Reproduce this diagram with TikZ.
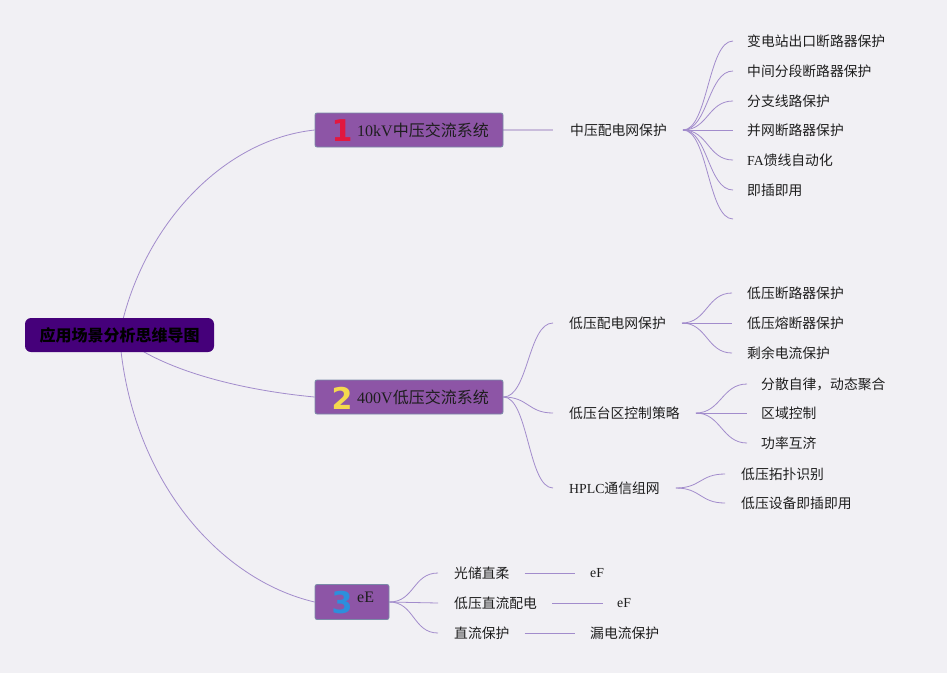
\documentclass[tikz,border=0pt]{standalone}
\usepackage{fontspec}
\setmainfont{Liberation Serif}
\newfontfamily\cjk{Noto Sans CJK SC}
\newfontfamily\numfont{DejaVu Sans}
\definecolor{bgc}{HTML}{F1F0F4}
\definecolor{rootc}{HTML}{45007A}
\definecolor{boxc}{HTML}{8D55A6}
\definecolor{boxb}{HTML}{7A8AA8}
\definecolor{linec}{HTML}{A28CCC}
\definecolor{thickc}{HTML}{C9BCDB}
\definecolor{txtc}{HTML}{1E1E1E}
\definecolor{nred}{HTML}{E2183F}
\definecolor{nyel}{HTML}{F4D94E}
\definecolor{nblue}{HTML}{2C8FDC}
\pgfdeclarelayer{bglayer}
\pgfdeclarelayer{linelayer}
\pgfsetlayers{bglayer,linelayer,main}
\tikzset{
  lbl/.style={anchor=west,inner sep=0pt,text=txtc,font=\fontsize{13.8}{16}\selectfont},
  toplbl/.style={anchor=west,inner sep=0pt,text=txtc,font=\fontsize{16}{18}\selectfont},
  topicbox/.style={draw=boxb,line width=0.8pt,fill=boxc,rounded corners=2pt,minimum height=34pt,inner sep=0pt},
  rootbox/.style={fill=rootc,rounded corners=6pt,minimum width=189pt,minimum height=34pt,inner sep=0pt,
    font=\fontsize{16}{18}\selectfont\cjk\bfseries,text=black},
  numlbl/.style={inner sep=0pt,font=\fontsize{30}{31}\selectfont\numfont\bfseries},
  branch/.style={draw=linec,line width=0.8pt},
  thickbranch/.style={draw=thickc,line width=2pt}
}
\begin{document}
\begin{tikzpicture}[x=1pt,y=-1pt]
\begin{pgfonlayer}{bglayer}
\fill[bgc] (0,0) rectangle (947,673);
\end{pgfonlayer}
\useasboundingbox (0,0) rectangle (947,673);

% root
\node[rootbox] (root) at (119.5,335) {应用场景分析思维导图};

% main topics
\node[topicbox,minimum width=188pt] (t1) at (409,130) {};
\node[numlbl,text=nred] (n1) at (342,131) {1};
\node[toplbl] (t1l) at (357,130) {10kV{\cjk 中压交流系统}};

\node[topicbox,minimum width=188pt] (t2) at (409,397) {};
\node[numlbl,text=nyel] (n2) at (342,398) {2};
\node[toplbl] (t2l) at (357,397) {400V{\cjk 低压交流系统}};

\node[topicbox,minimum width=74pt,minimum height=35pt] (t3) at (352,602) {};
\node[numlbl,text=nblue] (n3) at (342,603) {3};
\node[toplbl] (t3l) at (357,597) {eE};

% branch 1
\node[lbl] (a0) at (570,130) {\cjk 中压配电网保护};
\node[lbl] (a1) at (747,41) {\cjk 变电站出口断路器保护};
\node[lbl] (a2) at (747,71) {\cjk 中间分段断路器保护};
\node[lbl] (a3) at (747,101) {\cjk 分支线路保护};
\node[lbl] (a4) at (747,130) {\cjk 并网断路器保护};
\node[lbl] (a5) at (747,160) {FA{\cjk 馈线自动化}};
\node[lbl] (a6) at (747,190) {\cjk 即插即用};
\coordinate (a7) at (733,219);

% branch 2
\node[lbl] (b1) at (569,323) {\cjk 低压配电网保护};
\node[lbl] (b2) at (569,413) {\cjk 低压台区控制策略};
\node[lbl] (b3) at (569,488) {HPLC{\cjk 通信组网}};
\node[lbl] (b11) at (747,293) {\cjk 低压断路器保护};
\node[lbl] (b12) at (747,323) {\cjk 低压熔断器保护};
\node[lbl] (b13) at (747,353) {\cjk 剩余电流保护};
\node[lbl] (b21) at (761,384) {\cjk 分散自律，动态聚合};
\node[lbl] (b22) at (761,413) {\cjk 区域控制};
\node[lbl] (b23) at (761,443) {\cjk 功率互济};
\node[lbl] (b31) at (741,474) {\cjk 低压拓扑识别};
\node[lbl] (b32) at (741,503) {\cjk 低压设备即插即用};

% branch 3
\node[lbl] (c1) at (454,573) {\cjk 光储直柔};
\node[lbl] (c2) at (454,603) {\cjk 低压直流配电};
\node[lbl] (c3) at (454,633) {\cjk 直流保护};
\node[lbl] (c11) at (590,573) {eF};
\node[lbl] (c21) at (617,603) {eF};
\node[lbl] (c31) at (590,633) {\cjk 漏电流保护};

\begin{pgfonlayer}{linelayer}
% root connectors
\draw[branch] (root.center) .. controls (140,230) and (220,140) .. (t1.west);
\draw[branch] (root.center) .. controls (160,370) and (240,390) .. (t2.west);
\draw[branch] (root.center) .. controls (130,480) and (220,580) .. (t3.west);
% topic 1
\draw[thickbranch] (t1.east) -- ([xshift=-17pt]a0.west);
\foreach \c in {a1,a2,a3,a4,a5,a6}{
  \draw[branch] ([xshift=16pt]a0.east |- a0.west) .. controls +(25,0) and +(-25,0) .. ([xshift=-14pt]\c.west);
}
\draw[branch] ([xshift=16pt]a0.east |- a0.west) .. controls +(25,0) and +(-25,0) .. (a7);
% topic 2
\foreach \c in {b1,b2,b3}{
  \draw[branch] (t2.east) .. controls +(25,0) and +(-25,0) .. ([xshift=-16pt]\c.west);
}
\foreach \c in {b11,b12,b13}{
  \draw[branch] ([xshift=16pt]b1.east) .. controls +(25,0) and +(-25,0) .. ([xshift=-15pt]\c.west);
}
\foreach \c in {b21,b22,b23}{
  \draw[branch] ([xshift=16pt]b2.east) .. controls +(25,0) and +(-25,0) .. ([xshift=-14pt]\c.west);
}
\foreach \c in {b31,b32}{
  \draw[branch] ([xshift=16pt]b3.east) .. controls +(25,0) and +(-25,0) .. ([xshift=-16pt]\c.west);
}
% topic 3
\foreach \c in {c1,c2,c3}{
  \draw[branch] (t3.east) .. controls +(25,0) and +(-25,0) .. ([xshift=-16pt]\c.west);
}
\draw[branch] ([xshift=15pt]c1.east) -- ([xshift=-15pt]c11.west);
\draw[branch] ([xshift=15pt]c2.east) -- ([xshift=-14pt]c21.west);
\draw[branch] ([xshift=15pt]c3.east) -- ([xshift=-15pt]c31.west);
\end{pgfonlayer}
\end{tikzpicture}
\end{document}
